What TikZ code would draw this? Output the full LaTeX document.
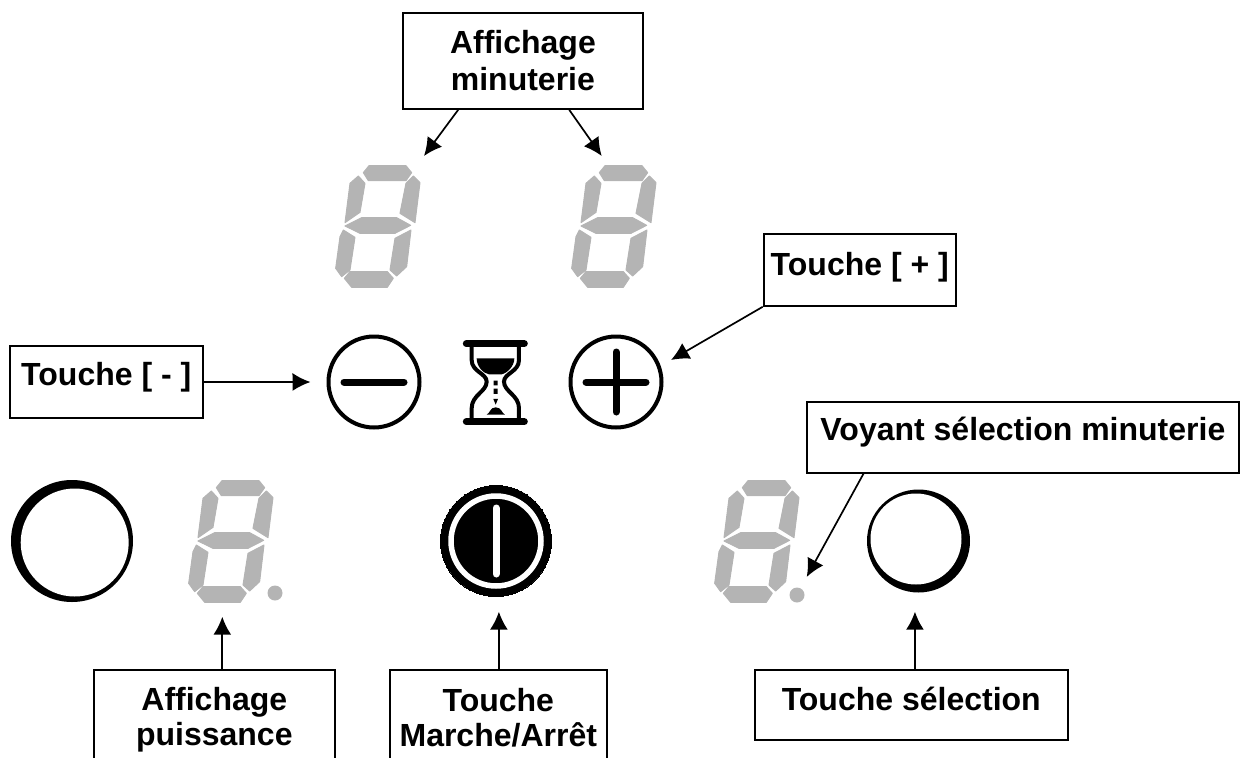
\documentclass[tikz,border=0pt]{standalone}
\usepackage{fontspec}
\setmainfont{Liberation Sans}
\usetikzlibrary{arrows.meta}
\definecolor{grisseg}{HTML}{B4B4B4}
\begin{document}
\begin{tikzpicture}[
        x=1pt, y=-1pt,
        boite/.style={draw, line width=1.8pt, anchor=north west, inner sep=0pt, align=center, font=\bfseries\fontsize{32}{37}\selectfont},
        boitebas/.style={boite, font=\bfseries\fontsize{32}{35}\selectfont},
        fleche/.style={draw, line width=1.7pt, -{Latex[length=18pt,width=18pt]}},
        rond/.style={draw, circle, line width=4pt, inner sep=0pt, minimum size=91pt},
        barre/.style={line width=7pt, line cap=round},
        voyant/.style={circle, fill=grisseg, inner sep=0pt, minimum size=15pt},
        afficheur/.pic={
            \path[fill=grisseg, draw=grisseg, line width=1pt, line join=round, scale=.3333]
                (190,68) -- (207,47) -- (318,47) -- (335,68) -- (318,92) -- (205,92) -- cycle
                (175,78) -- (195,100) -- (180,187) -- (135,218) -- (150,100) -- cycle
                (340,78) -- (360,98) -- (345,218) -- (300,190) -- (318,100) -- cycle
                (135,228) -- (185,203) -- (290,203) -- (332,226) -- (285,250) -- (180,250) -- cycle
                (130,240) -- (165,262) -- (150,360) -- (125,380) -- (107,355) -- (120,260) -- cycle
                (333,240) -- (320,350) -- (290,378) -- (270,360) -- (285,265) -- cycle
                (133,385) -- (150,365) -- (262,365) -- (280,385) -- (262,412) -- (155,412) -- cycle;
        },
    ]
    \useasboundingbox (0,0) rectangle (1243,758);

    \pic at (300,150) {afficheur};
    \pic at (536,150) {afficheur};
    \pic at (153,465) {afficheur};
    \pic at (679,465) {afficheur};
    \node[voyant] (pointg) at (275,593) {};
    \node[voyant] (pointd) at (797,595) {};

    \node[rond] (moins) at (374,382) {};
    \node[rond] (plus) at (616,382) {};
    \draw[barre] ([xshift=-30pt]moins.center) -- ([xshift=30pt]moins.center);
    \draw[barre] ([xshift=-30pt]plus.center) -- ([xshift=30pt]plus.center);
    \draw[barre] ([yshift=-30pt]plus.center) -- ([yshift=30pt]plus.center);

    \begin{scope}[shift={(455,330)}, scale=.3333]
        \draw[line width=7pt, line cap=round] (34,41) -- (208,41);
        \draw[line width=7pt, line cap=round] (34,275) -- (208,275);
        \draw[line width=4pt] (50,45) -- (50,90) .. controls (50,125) and (95,130) .. (95,155) .. controls (95,185) and (50,195) .. (50,235) -- (50,270);
        \draw[line width=4pt] (192,45) -- (192,90) .. controls (192,125) and (147,130) .. (147,155) .. controls (147,185) and (192,195) .. (192,235) -- (192,270);
        \fill (65,85) -- (178,85) .. controls (178,110) and (155,130) .. (140,133) -- (102,133) .. controls (85,130) and (65,110) .. (65,85) -- cycle;
        \fill (116,152) rectangle (128,166) (116,176) rectangle (128,192);
        \fill (115,207) -- (129,207) -- (122,224) -- cycle;
        \fill (95,254) .. controls (105,250) and (105,232) .. (122,232) .. controls (140,232) and (140,250) .. (150,254) -- cycle;
    \end{scope}

    \node[draw, circle, fill=black, line width=0pt, inner sep=0pt, minimum size=111pt] (marche) at (496,541) {};
    \draw[white, line width=5.5pt] (marche.center) circle (45);
    \draw[white, line width=7pt, line cap=round] ([yshift=33pt]marche.center) -- ([yshift=-33pt]marche.center);

    \fill (72,541) circle (61);
    \fill[white] (74.7,542.5) circle (54);
    \fill (918.5,541) circle (51.5);
    \fill[white] (916,539) circle (45.5);

    \node[boite, minimum width=240.6pt, minimum height=95.7pt] (affmin) at (401.7,12.3) {Affichage\\minuterie};
    \node[boite, minimum width=192.3pt, text height=42.3pt, text depth=30pt] (touchep) at (762.7,232.7) {Touche [ + ]};
    \node[boite, minimum width=192.7pt, text height=40pt, text depth=32.3pt] (touchem) at (9,345) {Touche [ - ]};
    \node[boite, minimum width=432pt, text height=39.3pt, text depth=31.7pt] (voysel) at (806,400.7) {Voyant sélection minuterie};
    \node[boitebas, minimum width=240.8pt, minimum height=101pt] (affpui) at (93,668.7) {Affichage\\puissance};
    \node[boitebas, minimum width=216.8pt, minimum height=96pt] (touchema) at (389,668.7) {Touche\\Marche/Arrêt};
    \node[boite, minimum width=312.7pt, text height=41.3pt, text depth=29.3pt] (touchesel) at (754,668.7) {Touche sélection};

    \coordinate (chiffreg) at (424,156);
    \coordinate (chiffred) at (601.7,156);
    \coordinate (versplus) at (671,360);
    \coordinate (verspoint) at (806.7,577);

    \draw[fleche] ([xshift=-64.7pt]affmin.south) -- (chiffreg);
    \draw[fleche] ([xshift=46.3pt]affmin.south) -- (chiffred);
    \draw[fleche] (touchep.south west) -- (versplus);
    \draw[fleche] (touchem.east) -- ([xshift=-16pt]moins.west);
    \draw[fleche] ([xshift=-159.3pt]voysel.south) -- (verspoint);
    \draw[fleche] ([xshift=8pt]affpui.north) -- ++(0,-52);
    \draw[fleche] ([xshift=0.6pt]touchema.north) -- ++(0,-57);
    \draw[fleche] ([xshift=3.7pt]touchesel.north) -- ++(0,-57);
\end{tikzpicture}
\end{document}
